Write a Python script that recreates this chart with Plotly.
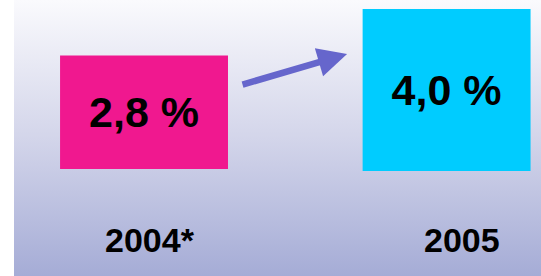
import base64
import plotly.graph_objects as go

# ---- data ----
years = ["2004*", "2005"]
growth = [2.8, 4.0]
growth_labels = ["2,8 %", "4,0 %"]

# ---- style / layout constants ----
W, H = 541, 276
bar_colors = ["#F0188F", "#00CCFF"]
bar_bases = [2.642, 2.593]          # vertical offset of each box
label_xshift = [6, 15]
arrow_color = "#6666CC"

svg = f"""<svg xmlns='http://www.w3.org/2000/svg' width='{W}' height='{H}' preserveAspectRatio='none'>
<defs><linearGradient id='g' x1='0' y1='0' x2='0' y2='1'>
<stop offset='0' stop-color='#FAFAFD'/>
<stop offset='0.5' stop-color='#D3D5EA'/>
<stop offset='1' stop-color='#A5ACD6'/>
</linearGradient></defs>
<rect x='0' y='0' width='{W}' height='{H}' fill='url(#g)'/>
</svg>"""
bg_uri = "data:image/svg+xml;base64," + base64.b64encode(svg.encode()).decode()

font_family = "Liberation Sans, Arial, sans-serif"

fig = go.Figure(
    go.Bar(
        x=years,
        y=growth,
        base=bar_bases,
        width=0.555,
        marker=dict(color=bar_colors, line=dict(width=0)),
        text=growth_labels,
        texttemplate="<b>%{text}</b>",
        textposition="inside",
        insidetextanchor="middle",
        textangle=0,
        textfont=dict(family=font_family, size=43, color="black"),
        hoverinfo="skip",
    )
)

annotations = []
for i, yr in enumerate(years):
    annotations.append(dict(
        x=i, y=0.88, xref="x", yref="y",
        text=f"<b>{yr}</b>", showarrow=False, xshift=label_xshift[i],
        font=dict(family=font_family, size=34, color="black"),
    ))

# arrow from first box toward second
annotations.append(dict(
    x=0.671, y=5.481, xref="x", yref="y",
    ax=-106, ay=31, axref="pixel", ayref="pixel",
    text="", showarrow=True, arrowhead=2, arrowsize=0.9,
    arrowwidth=6.5, arrowcolor=arrow_color, standoff=0, startstandoff=0,
))

fig.update_layout(
    width=W, height=H,
    margin=dict(l=0, r=0, t=0, b=0),
    paper_bgcolor="white",
    plot_bgcolor="rgba(0,0,0,0)",
    showlegend=False,
    xaxis=dict(type="category", range=[-0.476, 1.312], visible=False, fixedrange=True),
    yaxis=dict(range=[0, 6.815], visible=False, fixedrange=True),
    annotations=annotations,
    images=[dict(
        source=bg_uri, xref="paper", yref="paper",
        x=14 / W, y=1, sizex=1 - 14 / W, sizey=1,
        xanchor="left", yanchor="top", sizing="stretch", layer="below",
    )],
)

fig.write_html(
    "out.html",
    config={"displayModeBar": False},
    post_script="document.body.style.margin='0';document.body.style.overflow='hidden';",
)
